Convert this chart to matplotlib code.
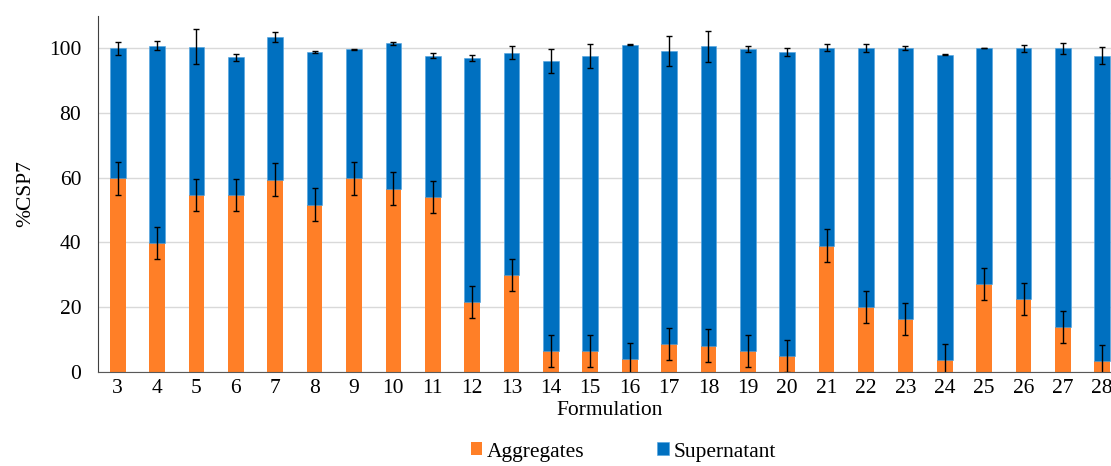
import matplotlib.pyplot as plt
import numpy as np

plt.rcParams['font.family'] = ['Liberation Serif', 'DejaVu Serif']

# Formulation numbers
formulations = [3, 4, 5, 6, 7, 8, 9, 10, 11, 12, 13, 14, 15, 16, 17, 18, 19, 20,
                21, 22, 23, 24, 25, 26, 27, 28]

# %CSP7 in aggregates (orange, bottom)
aggregates = [59.8, 39.9, 54.6, 54.6, 59.4, 51.7, 59.8, 56.6, 54.0, 21.5, 30.0, 6.4, 6.4,
              4.0, 8.7, 8.1, 6.4, 5.0, 39.0, 20.0, 16.3, 3.6, 27.2, 22.6, 13.8, 3.4]
aggregates_err = [5.0] * 26

totals = [100.0, 100.8, 100.5, 97.2, 103.4, 98.9, 99.7, 101.5, 97.7, 96.9, 98.6, 96.1, 97.5,
          101.1, 99.2, 100.6, 99.8, 98.9, 100.1, 100.0, 100.0, 98.0, 100.1, 100.0, 100.0, 97.7]
totals_err = [2.0, 1.5, 5.5, 1.0, 1.6, 0.3, 0.1, 0.5, 0.8, 0.9, 2.0, 3.7, 3.7,
              0.2, 4.7, 4.8, 0.9, 1.3, 1.1, 1.3, 0.6, 0.2, 0.1, 1.1, 1.7, 2.6]

supernatant = np.array(totals) - np.array(aggregates)

fs = 15.5

fig = plt.figure(figsize=(11.11, 4.66), dpi=100)
ax = fig.add_axes([0.0882, 0.202, 0.9217, 0.764])

x = np.array(formulations)
ax.bar(x, aggregates, width=0.4, color='#FF7F27', label='Aggregates', zorder=2,
       yerr=aggregates_err, error_kw=dict(ecolor='black', elinewidth=1, capsize=2.5, capthick=1))
ax.bar(x, supernatant, width=0.4, bottom=aggregates, color='#0070C0', label='Supernatant',
       edgecolor='#4FA3E0', linewidth=0.4, zorder=2,
       yerr=totals_err, error_kw=dict(ecolor='black', elinewidth=1, capsize=2.5, capthick=1))

ax.set_xlim(2.5, 28.5)
ax.set_ylim(0, 110)
ax.set_yticks([0, 20, 40, 60, 80, 100])
ax.set_xticks(x)
ax.set_xticklabels([str(f) for f in formulations])
ax.tick_params(axis='x', length=0, labelsize=fs, pad=5)
ax.tick_params(axis='y', length=0, labelsize=fs, pad=12)
ax.yaxis.grid(True, color='#D9D9D9', linewidth=1, zorder=0)
ax.set_axisbelow(True)

for side in ['top', 'right']:
    ax.spines[side].set_visible(False)
ax.spines['left'].set_color('#404040')
ax.spines['bottom'].set_color('#595959')

ax.set_ylabel('%CSP7', fontsize=fs, labelpad=10)
ax.set_xlabel('Formulation', fontsize=fs, labelpad=2)

fig.legend(loc='center', bbox_to_anchor=(0.561, 0.03), ncol=2, frameon=False,
           fontsize=fs, handlelength=0.55, handleheight=0.55, handletextpad=0.2,
           columnspacing=3.4)

fig.savefig('out.png', dpi=100)
